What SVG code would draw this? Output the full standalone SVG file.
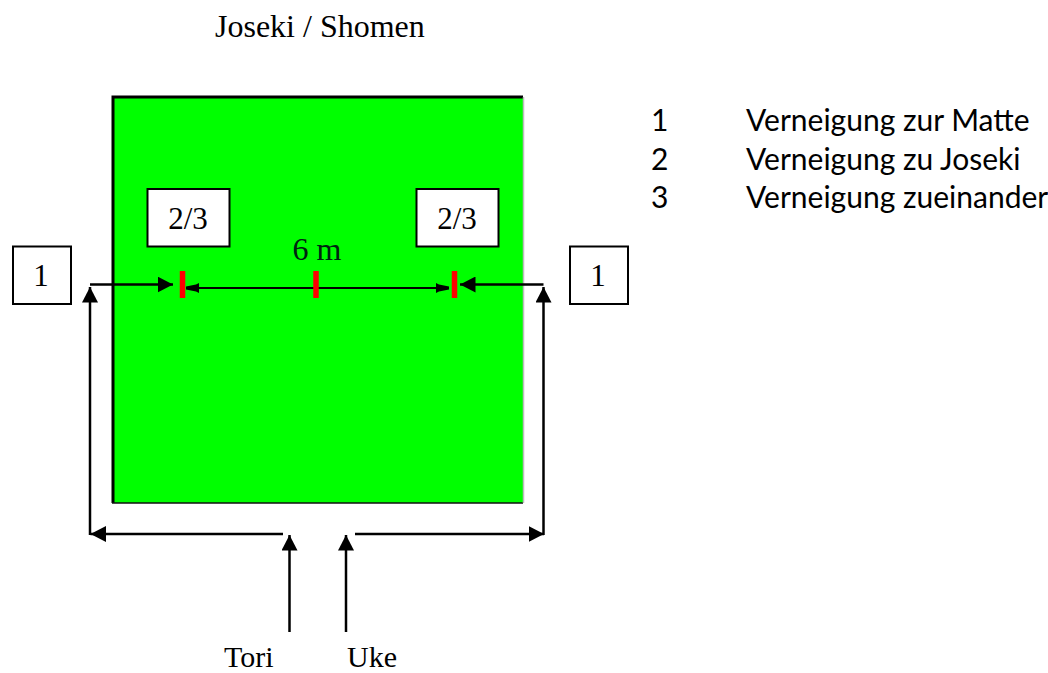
<svg xmlns="http://www.w3.org/2000/svg" width="1048" height="673" viewBox="0 0 1048 673">
<defs>
<marker id="ah" markerUnits="userSpaceOnUse" markerWidth="16" markerHeight="16" refX="15.500" refY="8" orient="auto"><path d="M0 0L15.500 8L0 16Z" fill="#000"/></marker>
<marker id="sm" markerUnits="userSpaceOnUse" markerWidth="13" markerHeight="10" refX="13" refY="5" orient="auto"><path d="M0 0L3 1.500L13 3.500V6.500L3 8.500L0 10Z" fill="#000"/></marker>
</defs>
<style>
.t{font-family:"Liberation Serif","Times New Roman",serif;font-size:31px;fill:#000}
.s{font-family:"Lato","Open Sans",sans-serif;font-size:30px;fill:#000}
.box{fill:#fff;stroke:#000;stroke-width:2}
.c{fill:none;stroke:#000;stroke-width:2.500}
.r{stroke:#f00;stroke-width:5.500}
</style>
<rect width="1048" height="673" fill="#fff"/>
<text class="t" x="215" y="37" style="font-size:32px">Joseki / Shomen</text>
<g id="mat">
<rect x="112" y="96" width="411" height="407" fill="#00ff00"/>
<path d="M113 503V97H523" fill="none" stroke="#000" stroke-width="3"/>
<path d="M112 503H523" fill="none" stroke="#111" stroke-width="1.500"/>
<path d="M523.500 97V503" fill="none" stroke="#bbb" stroke-width="1.500"/>
<text x="317" y="260" font-family="Liberation Serif,serif" font-size="32" text-anchor="middle" fill="#021">6 m</text>
</g>
<g id="connectors">
<path class="c" d="M90 284.500H173" marker-end="url(#ah)"/>
<path class="c" d="M543.500 284.500H460" marker-end="url(#ah)"/>
<path class="c" d="M90 535V287" marker-end="url(#ah)"/>
<path class="c" d="M543.500 535V287" marker-end="url(#ah)"/>
<path class="c" d="M283 534H90.500" marker-end="url(#ah)"/>
<path class="c" d="M355 534H544" marker-end="url(#ah)"/>
<path class="c" d="M289.500 632V535" marker-end="url(#ah)"/>
<path class="c" d="M346 632V535" marker-end="url(#ah)"/>
<path d="M186 288H449" fill="none" stroke="#000" stroke-width="2"/>
<path d="M199 288H186" stroke="#000" stroke-width="2" marker-end="url(#sm)"/>
<path d="M436 288H449" stroke="#000" stroke-width="2" marker-end="url(#sm)"/>
</g>
<g id="ticks">
<path class="r" d="M182.500 271V298"/>
<path class="r" d="M316 271V298"/>
<path class="r" d="M454.500 271V298"/>
</g>
<g id="box-23-left"><rect class="box" x="147.500" y="189" width="82" height="57.500"/><text class="t" x="188" y="229" text-anchor="middle">2/3</text></g>
<g id="box-23-right"><rect class="box" x="416.500" y="189" width="82" height="57.500"/><text class="t" x="457" y="229" text-anchor="middle">2/3</text></g>
<g id="box-1-left"><rect class="box" x="13" y="246.500" width="58" height="57.500"/><text class="t" x="41" y="286" text-anchor="middle">1</text></g>
<g id="box-1-right"><rect class="box" x="570" y="246.500" width="58" height="57.500"/><text class="t" x="598" y="286" text-anchor="middle">1</text></g>
<g id="labels">
<text class="t" x="224" y="666.500" style="font-size:30px">Tori</text>
<text class="t" x="347" y="666.500" style="font-size:30px">Uke</text>
</g>
<g id="legend">
<text class="s" x="651" y="131">1</text><text class="s" x="746" y="131">Verneigung zur Matte</text>
<text class="s" x="651" y="169.500">2</text><text class="s" x="746" y="169.500">Verneigung zu Joseki</text>
<text class="s" x="651" y="208">3</text><text class="s" x="746" y="208">Verneigung zueinander</text>
</g>
</svg>
